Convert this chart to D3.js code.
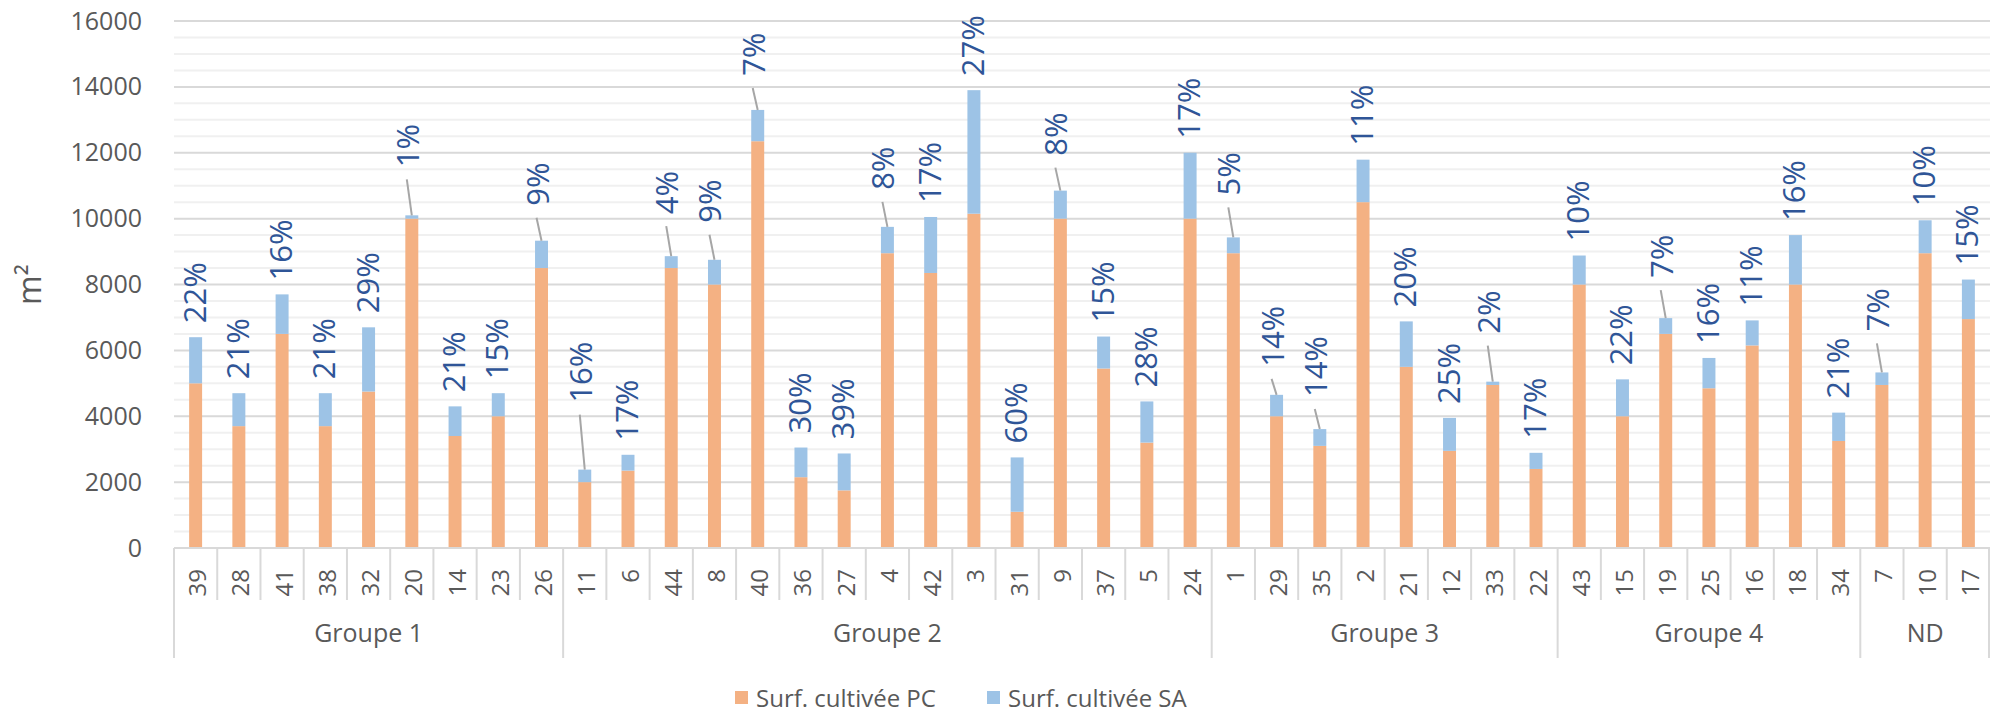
<!DOCTYPE html>
<html>
<head>
<meta charset="utf-8">
<script src="https://cdn.jsdelivr.net/npm/d3@7"></script>
<style>
  body { margin: 0; background: #fff; }
  svg { display: block; }
  text { font-family: "Open Sans", sans-serif; }
</style>
</head>
<body>
<div id="chart"></div>
<script>
// parcelles, dans l'ordre du graphique
const parcelles = ["39","28","41","38","32","20","14","23","26",
                   "11","6","44","8","40","36","27","4","42","3","31","9","37","5","24",
                   "1","29","35","2","21","12","33","22",
                   "43","15","19","25","16","18","34",
                   "7","10","17"];
const groupes = ["Groupe 1", "Groupe 2", "Groupe 3", "Groupe 4", "ND"];
const groupeTailles = [9, 15, 8, 7, 3];

// m2
const surfPC = [5000,3700,6500,3700,4750,10000,3400,4000,8500,
                2000,2350,8500,8000,12350,2150,1750,8950,8350,10150,1100,10000,5450,3200,10000,
                8950,4000,3100,10500,5500,2950,4950,2400,
                8000,4000,6500,4850,6150,8000,3250,
                4950,8950,6950];
const surfSA = [1400,1000,1200,1000,1950,100,900,700,830,
                380,480,360,750,950,900,1120,800,1700,3750,1650,850,970,1250,2000,
                480,650,510,1290,1380,1000,100,490,
                880,1120,480,920,760,1500,860,
                380,1000,1200];
const partSA = ["22%","21%","16%","21%","29%","1%","21%","15%","9%",
                "16%","17%","4%","9%","7%","30%","39%","8%","17%","27%","60%","8%","15%","28%","17%",
                "5%","14%","14%","11%","20%","25%","2%","17%",
                "10%","22%","7%","16%","11%","16%","21%",
                "7%","10%","15%"];

const yTicks = [0, 2000, 4000, 6000, 8000, 10000, 12000, 14000, 16000];
const series = ["Surf. cultivée PC", "Surf. cultivée SA"];

// labels moved away from their bar, with a leader line (px)
const leaders = {"20": 36, "26": 23, "11": 55, "44": 30, "8": 25, "40": 22, "4": 25,
                 "9": 23, "1": 30, "29": 16, "35": 20, "33": 36, "19": 28, "7": 29};

const width = 1991, height = 723;
const margin = { top: 21, right: 1, bottom: 175, left: 174 };
const axisY = height - margin.bottom;

const svg = d3.select("#chart").append("svg")
    .attr("width", width)
    .attr("height", height);

const x = d3.scaleBand()
    .domain(parcelles)
    .range([margin.left, width - margin.right])
    .padding(0);

const y = d3.scaleLinear()
    .domain([0, 16000])
    .range([axisY, margin.top]);

const color = d3.scaleOrdinal().domain(series).range(["#F4B183", "#9DC3E6"]);

// minor gridlines
svg.append("g")
   .selectAll("line")
   .data(d3.range(500, 16000, 500).filter(v => v % 2000 !== 0))
   .join("line")
   .attr("x1", margin.left).attr("x2", width - margin.right)
   .attr("y1", d => y(d)).attr("y2", d => y(d))
   .attr("stroke", "#f0f0f0")
   .attr("stroke-width", 2);

// major gridlines
svg.append("g")
   .selectAll("line")
   .data(yTicks)
   .join("line")
   .attr("x1", margin.left).attr("x2", width - margin.right)
   .attr("y1", d => y(d)).attr("y2", d => y(d))
   .attr("stroke", "#d9d9d9")
   .attr("stroke-width", 2);

// y axis labels
const yAxis = svg.append("g")
   .attr("transform", `translate(${margin.left}, 0)`)
   .call(d3.axisLeft(y).tickValues(yTicks).tickSize(0).tickPadding(32).tickFormat(d3.format("d")));
yAxis.select(".domain").remove();
yAxis.selectAll("text")
   .attr("font-family", "Open Sans")
   .attr("font-size", 25)
   .attr("fill", "#595959");

svg.append("text")
   .attr("transform", `translate(28, ${(margin.top + axisY) / 2}) rotate(-90)`)
   .attr("text-anchor", "middle")
   .attr("dominant-baseline", "central")
   .attr("font-size", 32)
   .attr("fill", "#595959")
   .text("m²");

// bars
const barW = x.bandwidth() * 0.3;
const cx = d => x(d) + x.bandwidth() / 2;

svg.append("g")
   .selectAll("rect")
   .data(parcelles)
   .join("rect")
   .attr("x", d => cx(d) - barW / 2)
   .attr("y", (d, i) => y(surfPC[i]))
   .attr("width", barW)
   .attr("height", (d, i) => y(0) - y(surfPC[i]))
   .attr("fill", color(series[0]));

svg.append("g")
   .selectAll("rect")
   .data(parcelles)
   .join("rect")
   .attr("x", d => cx(d) - barW / 2)
   .attr("y", (d, i) => y(surfPC[i] + surfSA[i]))
   .attr("width", barW)
   .attr("height", (d, i) => y(surfPC[i]) - y(surfPC[i] + surfSA[i]))
   .attr("fill", color(series[1]));

// leader lines
svg.append("g")
   .selectAll("line")
   .data(parcelles.filter(d => leaders[d]))
   .join("line")
   .attr("x1", d => cx(d))
   .attr("y1", d => { const i = parcelles.indexOf(d); return y(surfPC[i] + surfSA[i]); })
   .attr("x2", d => cx(d) - 5)
   .attr("y2", d => { const i = parcelles.indexOf(d); return y(surfPC[i] + surfSA[i]) - leaders[d]; })
   .attr("stroke", "#a6a6a6")
   .attr("stroke-width", 2);

// data labels (% SA)
svg.append("g")
   .selectAll("text")
   .data(parcelles)
   .join("text")
   .attr("transform", (d, i) => {
       const top = y(surfPC[i] + surfSA[i]);
       const lx = leaders[d] ? cx(d) - 5 : cx(d) - 2;
       const ly = leaders[d] ? top - leaders[d] - 12 : top - 14;
       return `translate(${lx}, ${ly}) rotate(-90)`;
   })
   .attr("text-anchor", "start")
   .attr("dominant-baseline", "central")
   .attr("font-size", 31)
   .attr("fill", "#2F5597")
   .text((d, i) => partSA[i]);

// category axis
const axisG = svg.append("g");
axisG.append("line")
   .attr("x1", margin.left).attr("x2", width - margin.right)
   .attr("y1", axisY).attr("y2", axisY)
   .attr("stroke", "#d9d9d9").attr("stroke-width", 2);

const groupStarts = d3.cumsum([0, ...groupeTailles]).slice(0, groupes.length);

axisG.selectAll(".sep")
   .data(parcelles)
   .join("line")
   .attr("x1", d => x(d)).attr("x2", d => x(d))
   .attr("y1", axisY)
   .attr("y2", (d, i) => groupStarts.includes(i) ? axisY + 110 : axisY + 52)
   .attr("stroke", "#d9d9d9").attr("stroke-width", 2);

axisG.append("line")
   .attr("x1", width - margin.right - 1).attr("x2", width - margin.right - 1)
   .attr("y1", axisY).attr("y2", axisY + 110)
   .attr("stroke", "#d9d9d9").attr("stroke-width", 2);

axisG.selectAll(".cat")
   .data(parcelles)
   .join("text")
   .attr("transform", d => `translate(${cx(d) + 1}, ${axisY + 21}) rotate(-90)`)
   .attr("text-anchor", "end")
   .attr("dominant-baseline", "central")
   .attr("font-size", 24)
   .attr("fill", "#595959")
   .text(d => d);

axisG.selectAll(".grp")
   .data(groupes)
   .join("text")
   .attr("x", (g, k) => {
       const a = x(parcelles[groupStarts[k]]);
       const last = parcelles[groupStarts[k] + groupeTailles[k] - 1];
       return (a + x(last) + x.bandwidth()) / 2;
   })
   .attr("y", axisY + 84)
   .attr("text-anchor", "middle")
   .attr("dominant-baseline", "central")
   .attr("font-size", 25)
   .attr("fill", "#595959")
   .text(g => g);

// legend
const legend = svg.append("g").attr("transform", "translate(735, 697)");
const item = legend.selectAll("g")
   .data(series)
   .join("g")
   .attr("transform", (d, i) => `translate(${i * 252}, 0)`);
item.append("rect")
   .attr("x", 0).attr("y", -6)
   .attr("width", 13).attr("height", 13)
   .attr("fill", d => color(d));
item.append("text")
   .attr("x", 21).attr("y", 0)
   .attr("dominant-baseline", "central")
   .attr("font-size", 24)
   .attr("fill", "#595959")
   .text(d => d);
</script>
</body>
</html>
